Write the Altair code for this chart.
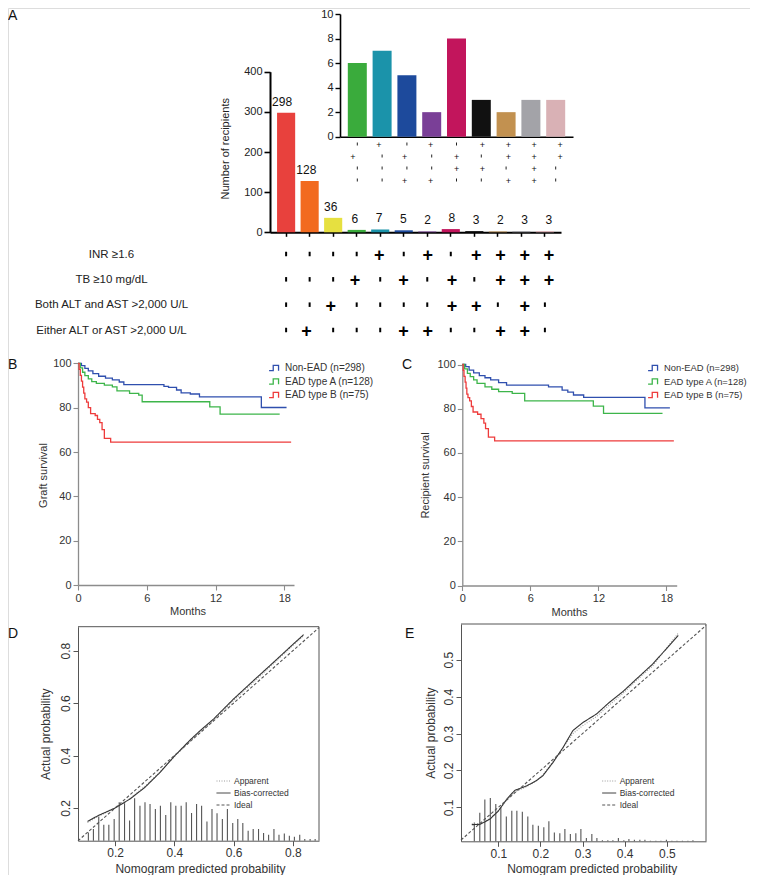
import altair as alt
import pandas as pd

FONT = "Liberation Sans"
W, H = 742, 867

# ---------------- Panel A data ----------------
GROUPS = ["G1", "G2", "G3", "G4", "G5", "G6", "G7", "G8", "G9", "G10", "G11", "G12"]
COUNTS = [298, 128, 36, 6, 7, 5, 2, 8, 3, 2, 3, 3]
BAR_COLORS = ["#e8413d", "#f26a1f", "#e6e040", "#3aab3c", "#1b93aa", "#1d4a9c",
              "#7a3f97", "#c2155c", "#111111", "#c29150", "#a3a3a8", "#d9b1b5"]
CRITERIA = ["INR ≥1.6", "TB ≥10 mg/dL", "Both ALT and AST >2,000 U/L", "Either ALT or AST >2,000 U/L"]
SIGN_INR = ["-", "-", "-", "-", "+", "-", "+", "-", "+", "+", "+", "+"]
SIGN_TB = ["-", "-", "-", "+", "-", "+", "-", "+", "-", "+", "+", "+"]
SIGN_BOTH = ["-", "-", "+", "-", "-", "-", "-", "+", "+", "-", "+", "-"]
SIGN_EITHER = ["-", "+", "-", "-", "-", "+", "+", "-", "-", "+", "+", "-"]
INSET_GROUPS = GROUPS[3:]
MAIN_TICKS = [0, 100, 200, 300, 400]
INSET_TICKS = [0, 2, 4, 6, 8, 10]

# ---------------- Panels B / C (Kaplan-Meier) ----------------
KM_GROUPS = ["Non-EAD (n=298)", "EAD type A (n=128)", "EAD type B (n=75)"]
KM_COLORS = ["#2f4fae", "#3db54a", "#ee3b3b"]
MONTH_TICKS = [0, 6, 12, 18]
SURV_TICKS = [0, 20, 40, 60, 80, 100]

B_NON_T = [0, 0.3, 0.6, 0.9, 1.3, 1.8, 2.4, 3.0, 3.6, 4.0, 7.5, 7.9, 8.6, 9.0, 9.8, 10.6, 16.0, 18.2]
B_NON_S = [100, 99.0, 97.8, 96.6, 95.4, 94.2, 93.4, 92.6, 91.6, 90.4, 89.6, 89.2, 88.0, 86.7, 86.2, 84.9, 80.1, 80.1]
B_A_T = [0, 0.2, 0.4, 0.6, 0.9, 1.2, 1.6, 2.3, 3.0, 3.4, 4.5, 5.3, 5.6, 11.5, 12.4, 17.6]
B_A_S = [100, 98.0, 96.0, 94.5, 93.0, 91.8, 91.0, 90.2, 89.4, 87.6, 86.5, 85.7, 82.7, 80.4, 77.1, 77.1]
B_B_T = [0, 0.1, 0.2, 0.3, 0.4, 0.5, 0.6, 0.75, 0.9, 1.1, 1.5, 1.7, 1.9, 2.1, 2.3, 2.85, 18.6]
B_B_S = [100, 97.3, 94.6, 92.0, 89.3, 86.6, 84.0, 82.5, 80.0, 77.3, 76.5, 74.7, 73.3, 70.1, 66.2, 64.5, 64.5]

C_NON_T = [0, 0.3, 0.6, 1.0, 1.5, 2.0, 2.5, 3.2, 3.9, 7.6, 8.8, 9.3, 9.8, 10.7, 16.1, 18.3]
C_NON_S = [100, 99.0, 97.5, 96.2, 95.0, 94.0, 93.0, 91.8, 90.7, 89.9, 88.4, 87.5, 86.2, 85.1, 80.4, 80.4]
C_A_T = [0, 0.2, 0.45, 0.7, 1.0, 1.3, 2.0, 2.6, 3.2, 4.4, 5.5, 11.55, 12.45, 17.65]
C_A_S = [100, 98.0, 96.0, 94.5, 93.0, 91.5, 89.9, 88.8, 87.7, 86.9, 83.5, 81.2, 77.9, 77.9]
C_B_T = [0, 0.08, 0.15, 0.25, 0.33, 0.4, 0.5, 0.65, 0.8, 0.95, 1.35, 1.65, 1.9, 2.05, 2.3, 2.85, 18.65]
C_B_S = [100, 97.3, 94.6, 92.0, 89.3, 86.6, 85.0, 83.5, 81.0, 78.5, 77.5, 75.5, 73.5, 71.0, 67.1, 65.4, 65.4]

# ---------------- Panels D / E (calibration) ----------------
CAL_SERIES = ["Apparent", "Bias-corrected", "Ideal"]

D_BC_X = [0.107, 0.143, 0.2, 0.25, 0.301, 0.352, 0.402, 0.453, 0.487, 0.532, 0.6, 0.667, 0.734, 0.8, 0.836]
D_BC_Y = [0.149, 0.171, 0.2, 0.234, 0.279, 0.336, 0.40, 0.459, 0.495, 0.539, 0.616, 0.686, 0.755, 0.824, 0.861]
D_AP_Y = [0.145, 0.168, 0.199, 0.236, 0.283, 0.338, 0.398, 0.455, 0.49, 0.534, 0.61, 0.68, 0.75, 0.82, 0.857]
D_IDEAL = [0.075, 0.888]
D_SPIKE_X = [0.110, 0.127, 0.145, 0.162, 0.179, 0.197, 0.214, 0.232, 0.249, 0.266, 0.284, 0.301,
             0.318, 0.336, 0.353, 0.371, 0.388, 0.405, 0.423, 0.440, 0.458, 0.475, 0.492, 0.510,
             0.527, 0.544, 0.562, 0.579, 0.597, 0.614, 0.631, 0.649, 0.666, 0.684, 0.701, 0.718,
             0.736, 0.753, 0.771, 0.788, 0.805, 0.823, 0.840, 0.858, 0.875]
D_SPIKE_TOP = [0.107, 0.120, 0.167, 0.136, 0.136, 0.158, 0.222, 0.218, 0.152, 0.237, 0.209, 0.222,
               0.215, 0.196, 0.209, 0.173, 0.222, 0.209, 0.209, 0.222, 0.181, 0.215, 0.209, 0.149,
               0.196, 0.180, 0.158, 0.196, 0.143, 0.158, 0.143, 0.113, 0.120, 0.120, 0.105, 0.098,
               0.120, 0.098, 0.103, 0.094, 0.090, 0.098, 0.082, 0.082, 0.082]
D_X_DOMAIN = [0.075, 0.888]
D_Y_DOMAIN = [0.0753, 0.8915]
D_TICKS = [0.2, 0.4, 0.6, 0.8]

E_BC_X = [0.037, 0.057, 0.080, 0.100, 0.120, 0.139, 0.167, 0.190, 0.206, 0.230, 0.254, 0.277,
          0.301, 0.333, 0.364, 0.396, 0.428, 0.467, 0.527]
E_BC_Y = [0.053, 0.054, 0.068, 0.090, 0.122, 0.146, 0.158, 0.172, 0.186, 0.222, 0.263, 0.308,
          0.330, 0.353, 0.385, 0.414, 0.448, 0.489, 0.566]
E_AP_Y = [0.055, 0.056, 0.069, 0.091, 0.120, 0.142, 0.156, 0.172, 0.188, 0.224, 0.262, 0.300,
          0.322, 0.346, 0.378, 0.409, 0.444, 0.484, 0.572]
E_IDEAL = [0.0114, 0.593]
E_SPIKE_X = [0.043, 0.056, 0.068, 0.081, 0.094, 0.106, 0.119, 0.132, 0.144, 0.157, 0.170, 0.182,
             0.195, 0.208, 0.220, 0.233, 0.246, 0.258, 0.271, 0.284, 0.296, 0.309, 0.322, 0.334,
             0.347, 0.360, 0.372, 0.385, 0.398, 0.410, 0.423, 0.436, 0.448, 0.461, 0.474, 0.486,
             0.499, 0.512, 0.524, 0.537, 0.550, 0.562]
E_SPIKE_TOP = [0.059, 0.085, 0.121, 0.125, 0.109, 0.100, 0.075, 0.091, 0.091, 0.088, 0.075, 0.053,
               0.050, 0.046, 0.062, 0.032, 0.030, 0.041, 0.028, 0.030, 0.041, 0.017, 0.028, 0.017,
               0.011, 0.011, 0.011, 0.017, 0.011, 0.014, 0.012, 0.012, 0.012, 0.0095, 0.0095, 0.0095,
               0.012, 0.0095, 0.0095, 0.0095, 0.0095, 0.011]
E_X_DOMAIN = [0.0114, 0.593]
E_Y_DOMAIN = [0.0079, 0.597]
E_TICKS = [0.1, 0.2, 0.3, 0.4, 0.5]

# ================= build tables =================
dfA = pd.DataFrame({"group": GROUPS, "count": COUNTS})
dfI = dfA[dfA["group"].isin(INSET_GROUPS)]
rows = []
for crit, signs in zip(CRITERIA, [SIGN_INR, SIGN_TB, SIGN_BOTH, SIGN_EITHER]):
    for g, s in zip(GROUPS, signs):
        rows.append({"criterion": crit, "group": g, "sign": s})
dfS = pd.DataFrame(rows)
dfSI = dfS[dfS["group"].isin(INSET_GROUPS)]


def km_table(series):
    out = []
    for name, (ts, ss) in zip(KM_GROUPS, series):
        for i, (t, s) in enumerate(zip(ts, ss)):
            out.append({"group": name, "t": t, "s": s, "i": i})
    return pd.DataFrame(out)


dfB = km_table([(B_NON_T, B_NON_S), (B_A_T, B_A_S), (B_B_T, B_B_S)])
dfC = km_table([(C_NON_T, C_NON_S), (C_A_T, C_A_S), (C_B_T, C_B_S)])


def cal_table(bx, by, ay, ideal):
    out = []
    for i, (x, y) in enumerate(zip(bx, ay)):
        out.append({"series": "Apparent", "x": x, "y": y, "i": i})
    for i, (x, y) in enumerate(zip(bx, by)):
        out.append({"series": "Bias-corrected", "x": x, "y": y, "i": i})
    for i, v in enumerate(ideal):
        out.append({"series": "Ideal", "x": v, "y": v, "i": i})
    return pd.DataFrame(out)


dfD = cal_table(D_BC_X, D_BC_Y, D_AP_Y, D_IDEAL)
dfE = cal_table(E_BC_X, E_BC_Y, E_AP_Y, E_IDEAL)
dfDs = pd.DataFrame({"x": D_SPIKE_X, "top": D_SPIKE_TOP})
dfDs["base"] = D_Y_DOMAIN[0]
dfEs = pd.DataFrame({"x": E_SPIKE_X, "top": E_SPIKE_TOP})
dfEs["base"] = E_Y_DOMAIN[0]

layers = []

# ================= Panel A =================
axA = dict(domainColor="#000", tickColor="#000", labelFont=FONT, labelFontSize=11,
           labelColor="#222", titleFont=FONT, titleFontSize=11, titleFontWeight="normal",
           titleColor="#222", grid=False, labelFlush=False)
xA = alt.Scale(domain=GROUPS, range=[262, 553], paddingInner=0.23, paddingOuter=0.3)
yA = alt.Scale(domain=[0, 400], range=[224.3, 63.7], nice=False)
colA = alt.Color("group:N", scale=alt.Scale(domain=GROUPS, range=BAR_COLORS), legend=None)

layers.append(alt.Chart(dfA).mark_bar().encode(
    x=alt.X("group:N", scale=xA, sort=GROUPS,
            axis=alt.Axis(orient="bottom", offset=224.3 - H, labels=False, title=None,
                          tickSize=4, tickWidth=1.5, domainWidth=2, **axA)),
    y=alt.Y("count:Q", scale=yA,
            axis=alt.Axis(orient="left", offset=-262, values=MAIN_TICKS, tickSize=6, tickWidth=1.6,
                          domainWidth=2, labelPadding=2, title="Number of recipients",
                          titleX=-45, titleY=140.3, titleAngle=270, titleAlign="center",
                          titleBaseline="middle", **axA)),
    color=colA))

layers.append(alt.Chart(dfA).mark_text(fontSize=12, dy=-11, font=FONT, color="#111").encode(
    x=alt.X("group:N", scale=xA, sort=GROUPS, axis=None),
    y=alt.Y("count:Q", scale=yA, axis=None),
    text="count:Q"))

ySign = alt.Scale(type="point", domain=CRITERIA, range=[248, 324], padding=0)
layers.append(alt.Chart(dfS[dfS["sign"] == "+"]).mark_text(
    text="+", fontSize=18, fontWeight="bold", font=FONT, color="#000").encode(
    x=alt.X("group:N", scale=xA, sort=GROUPS, axis=None),
    y=alt.Y("criterion:N", scale=ySign,
            axis=alt.Axis(orient="left", offset=-200, domain=False, ticks=False, tickSize=0,
                          labelPadding=97, labelAlign="center", labelBaseline="middle",
                          labelFontSize=11.5, labelFont=FONT, labelColor="#222", labelOffset=-2,
                          title=None, grid=False))))
layers.append(alt.Chart(dfS[dfS["sign"] == "-"]).mark_tick(
    orient="vertical", size=4.5, thickness=2, color="#000", opacity=1, yOffset=-2).encode(
    x=alt.X("group:N", scale=xA, sort=GROUPS, axis=None),
    y=alt.Y("criterion:N", scale=ySign, axis=None)))

# inset
xI = alt.Scale(domain=INSET_GROUPS, range=[332, 565], paddingInner=0.234, paddingOuter=0.315)
yI = alt.Scale(domain=[0, 10], range=[128.7, 6], nice=False)
layers.append(alt.Chart(dfI).mark_bar().encode(
    x=alt.X("group:N", scale=xI, sort=INSET_GROUPS,
            axis=alt.Axis(orient="bottom", offset=128.7 - H, labels=False, ticks=False, title=None,
                          domainWidth=1.6, **axA)),
    y=alt.Y("count:Q", scale=yI,
            axis=alt.Axis(orient="left", offset=-332, values=INSET_TICKS, tickSize=5, tickWidth=1.4,
                          domainWidth=1.6, labelPadding=2, title=None, **axA)),
    color=alt.Color("group:N", scale=alt.Scale(domain=GROUPS, range=BAR_COLORS), legend=None)))

ySignI = alt.Scale(type="point", domain=CRITERIA, range=[137, 173], padding=0)
layers.append(alt.Chart(dfSI[dfSI["sign"] == "+"]).mark_text(
    text="+", fontSize=9, font=FONT, color="#111").encode(
    x=alt.X("group:N", scale=xI, sort=INSET_GROUPS, axis=None),
    y=alt.Y("criterion:N", scale=ySignI, axis=None)))
layers.append(alt.Chart(dfSI[dfSI["sign"] == "-"]).mark_tick(
    orient="vertical", size=3, thickness=1, color="#222", opacity=1, yOffset=-1).encode(
    x=alt.X("group:N", scale=xI, sort=INSET_GROUPS, axis=None),
    y=alt.Y("criterion:N", scale=ySignI, axis=None)))

# ================= Panels B / C =================
axKM = dict(domainColor="#8c8c8c", domainWidth=1.3, tickColor="#8c8c8c", tickWidth=1.1, tickSize=5,
            labelFont=FONT, labelFontSize=11, labelColor="#333", labelPadding=2, labelFlush=False,
            titleFont=FONT, titleFontSize=11, titleFontWeight="normal", titleColor="#333", grid=False)
STEP_PATH = "M-1,0.45H-0.3V-0.45H0.6V0.45"


def km_layer(df, xr, yr, xmax, ytitle, ytitle_x, xtitle_x, legend_x, legend_font):
    xs = alt.Scale(domain=[0, xmax], range=xr, nice=False, zero=False)
    ys = alt.Scale(domain=[0, 100], range=yr, nice=False)
    return alt.Chart(df).mark_line(interpolate="step-after", strokeWidth=1.3).encode(
        x=alt.X("t:Q", scale=xs,
                axis=alt.Axis(orient="bottom", offset=yr[0] - H, values=MONTH_TICKS, title="Months",
                              titleX=xtitle_x, titleY=26.7, titleAlign="center",
                              titleBaseline="middle", **axKM)),
        y=alt.Y("s:Q", scale=ys,
                axis=alt.Axis(orient="left", offset=-xr[0], values=SURV_TICKS, title=ytitle,
                              titleX=ytitle_x, titleY=467, titleAngle=270, titleAlign="center",
                              titleBaseline="middle", **axKM)),
        color=alt.Color("group:N", scale=alt.Scale(domain=KM_GROUPS, range=KM_COLORS),
                        legend=alt.Legend(orient="none", legendX=legend_x, legendY=353, title=None,
                                          symbolType=STEP_PATH, symbolSize=140, symbolStrokeWidth=1.3,
                                          symbolFillColor="transparent", labelFont=FONT,
                                          labelFontSize=legend_font, labelColor="#333", rowPadding=0.5,
                                          labelOffset=3, labelLimit=200)),
        order=alt.Order("i:Q"))


layers.append(km_layer(dfB, [70, 286], [577, 355.4], 18.85, "Graft survival", -34.5, 179.5, 260, 10))
layers.append(km_layer(dfC, [454.3, 668.7], [577.5, 356.5], 18.9, "Recipient survival", -37.3, 561, 639, 9.4))

# ================= Panels D / E =================
axCal = dict(domainColor="#555", domainWidth=1, tickColor="#555", tickWidth=1, tickSize=5,
             labelFont=FONT, labelFontSize=12, labelColor="#333", labelFlush=False,
             titleFont=FONT, titleFontSize=12, titleFontWeight="normal", titleColor="#333",
             grid=False, format=".1f")


def cal_layers(df, dfs, xdom, ydom, xr, yr, ticks, ytitle_x, xtitle_x, legend_x):
    xs = alt.Scale(domain=xdom, range=xr, nice=False, zero=False)
    ys = alt.Scale(domain=ydom, range=yr, nice=False, zero=False)
    top_df = pd.DataFrame({"x0": [xdom[0]], "x1": [xdom[1]], "yt": [ydom[1]]})
    top_edge = alt.Chart(top_df).mark_rule(color="#555", strokeWidth=1).encode(
        x=alt.X("x0:Q", scale=xs, axis=None), x2="x1:Q",
        y=alt.Y("yt:Q", scale=ys, axis=None))
    right_df = pd.DataFrame({"xr": [xdom[1]], "y0": [ydom[0]], "y1": [ydom[1]]})
    right_edge = alt.Chart(right_df).mark_rule(color="#555", strokeWidth=1).encode(
        x=alt.X("xr:Q", scale=xs, axis=None),
        y=alt.Y("y0:Q", scale=ys, axis=None), y2="y1:Q")
    spikes = alt.Chart(dfs).mark_rule(color="#555", strokeWidth=1.1).encode(
        x=alt.X("x:Q", scale=xs, axis=None),
        y=alt.Y("top:Q", scale=ys, axis=None),
        y2="base:Q")
    leg = dict(orient="none", legendX=legend_x, legendY=765.5, title=None, symbolType="stroke",
               symbolSize=196, symbolStrokeWidth=1, labelFont=FONT, labelFontSize=8.5,
               labelColor="#333", rowPadding=-4.8, labelOffset=3)
    lines = alt.Chart(df).mark_line(strokeWidth=1.1).encode(
        x=alt.X("x:Q", scale=xs,
                axis=alt.Axis(orient="bottom", offset=yr[0] - H, values=ticks, labelPadding=2,
                              title="Nomogram predicted probability", titleX=xtitle_x, titleY=31.5,
                              titleAlign="center", titleBaseline="alphabetic", **axCal)),
        y=alt.Y("y:Q", scale=ys,
                axis=alt.Axis(orient="left", offset=-xr[0], values=ticks, labelPadding=1,
                              labelAngle=270, labelAlign="center", labelBaseline="bottom",
                              title="Actual probability", titleX=ytitle_x, titleY=(yr[0] + yr[1]) / 2,
                              titleAngle=270, titleAlign="center", titleBaseline="middle", **axCal)),
        color=alt.Color("series:N", scale=alt.Scale(domain=CAL_SERIES, range=["#9c9c9c", "#333333", "#555555"]),
                        legend=alt.Legend(**leg)),
        strokeDash=alt.StrokeDash("series:N",
                                  scale=alt.Scale(domain=CAL_SERIES, range=[[1, 1.5], [1, 0], [3, 2]]),
                                  legend=alt.Legend(**leg)),
        order=alt.Order("i:Q"))
    return [top_edge, right_edge, spikes, lines]


layers += cal_layers(dfD, dfDs, D_X_DOMAIN, D_Y_DOMAIN, [70, 311], [832.7, 618.7], D_TICKS, -33, 192, 208)
layers += cal_layers(dfE, dfEs, E_X_DOMAIN, E_Y_DOMAIN, [453, 698], [833.3, 616], E_TICKS, -31, 583.7, 593.7)

# ================= panel letters =================
for letter, px, py in [("A", 0, 8), ("B", 0, 357), ("C", 394, 357), ("D", 0, 626), ("E", 397, 626)]:
    layers.append(alt.Chart(pd.DataFrame({"t": [letter]})).mark_text(
        align="left", baseline="middle", fontSize=14, font=FONT, color="#111").encode(
        x=alt.value(px), y=alt.value(py), text="t:N"))

chart = alt.layer(*layers).resolve_scale(
    x="independent", y="independent", color="independent", strokeDash="independent"
).properties(
    width=W, height=H, autosize=alt.AutoSizeParams(type="none"), padding=0
).configure_view(strokeWidth=0, strokeOpacity=0, stroke="transparent").configure(font=FONT)

chart.save("out.html", embed_options={"renderer": "svg", "actions": False})
